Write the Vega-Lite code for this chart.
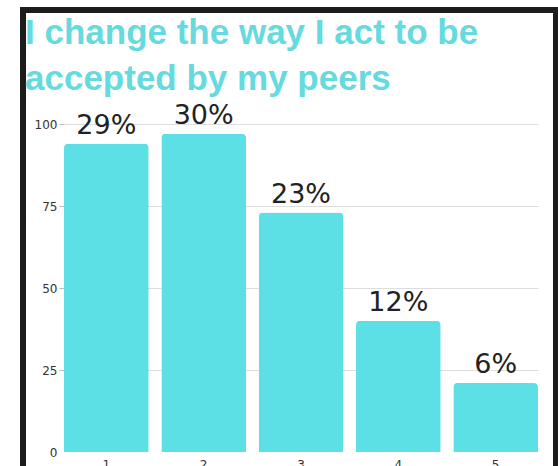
{
  "$schema": "https://vega.github.io/schema/vega-lite/v6.json",
  "width": 533,
  "height": 461,
  "autosize": {"type": "none"},
  "padding": {"left": 23, "top": 10, "right": 2, "bottom": -5},
  "background": "white",
  "title": {
    "text": ["I change the way I act to be", "accepted by my peers"],
    "anchor": "start",
    "frame": "group",
    "offset": -87,
    "font": "Liberation Sans",
    "fontSize": 35,
    "fontWeight": "bold",
    "color": "#66dade",
    "lineHeight": 46,
    "dx": 2
  },
  "data": {
    "values": [
      {"rating": "1", "count": 94, "label": "29%"},
      {"rating": "2", "count": 97, "label": "30%"},
      {"rating": "3", "count": 73, "label": "23%"},
      {"rating": "4", "count": 40, "label": "12%"},
      {"rating": "5", "count": 21, "label": "6%"}
    ]
  },
  "encoding": {
    "x": {
      "field": "rating",
      "type": "ordinal",
      "scale": {"range": [41, 515], "paddingInner": 0.13, "paddingOuter": 0},
      "axis": {
        "offset": -19,
        "title": null,
        "domain": false,
        "ticks": false,
        "labelAngle": 0,
        "labelPadding": 7,
        "labelFont": "DejaVu Sans",
        "labelFontSize": 12,
        "labelColor": "#333333"
      }
    },
    "y": {
      "field": "count",
      "type": "quantitative",
      "scale": {"domain": [0, 100], "range": [442, 114], "nice": false},
      "axis": {
        "values": [0, 25, 50, 75, 100],
        "offset": -41,
        "title": null,
        "domain": false,
        "tickSize": 5,
        "tickColor": "#bbbbbb",
        "gridColor": "#dddddd",
        "gridOpacity": {"condition": {"test": "datum.value === 0", "value": 0}, "value": 1},
        "tickOpacity": {"condition": {"test": "datum.value === 0", "value": 0}, "value": 1},
        "labelFont": "DejaVu Sans",
        "labelFontSize": 12,
        "labelColor": "#333333",
        "labelPadding": 2
      }
    }
  },
  "layer": [
    {
      "mark": {"type": "bar", "color": "#5ce0e5", "cornerRadiusTopLeft": 4, "cornerRadiusTopRight": 4}
    },
    {
      "mark": {"type": "text", "baseline": "alphabetic", "dy": -10, "font": "DejaVu Sans", "fontSize": 27, "color": "#222222"},
      "encoding": {"text": {"field": "label", "type": "nominal"}}
    }
  ],
  "config": {"view": {"stroke": "#1c1c1c", "strokeWidth": 6}}
}
